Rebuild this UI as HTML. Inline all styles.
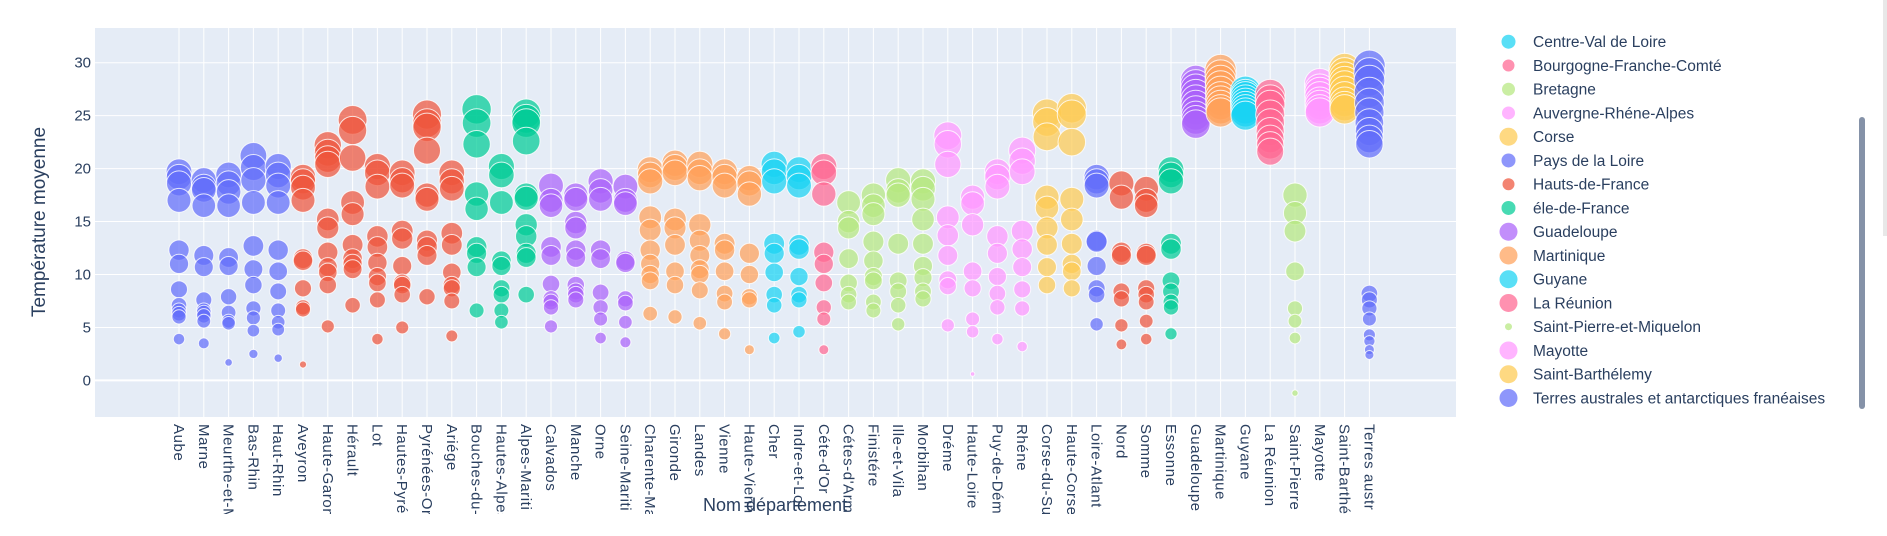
<!DOCTYPE html>
<html><head><meta charset="utf-8">
<style>
html,body{margin:0;padding:0;background:#fff;overflow:hidden;width:1887px;height:536px}
svg{display:block;font-family:"Liberation Sans",sans-serif}
</style></head>
<body>
<svg id="chart" width="1887" height="536" viewBox="0 0 1887 536" xmlns="http://www.w3.org/2000/svg">
<rect x="95" y="28" width="1361" height="389" fill="#e5ecf6"/>
<g id="grid"></g>
<g id="marks"></g>
<g id="yticks"></g>
<clipPath id="xclip"><rect x="95" y="418" width="1370" height="96"/></clipPath>
<g id="xticks" clip-path="url(#xclip)"></g>
<text x="775" y="511" text-anchor="middle" font-size="18" fill="#2a3f5f">Nom département</text>
<text transform="translate(45,222) rotate(-90)" text-anchor="middle" font-size="19" fill="#2a3f5f">Température moyenne</text>
<g id="legend"></g>
<rect x="1859" y="117" width="6" height="292" rx="3" fill="#8592a8"/>
<rect x="1883" y="0" width="4" height="236" fill="#e8e8e8"/>
</svg>
<script>
const categories=["Aube","Marne","Meurthe-et-Moselle","Bas-Rhin","Haut-Rhin","Aveyron","Haute-Garonne","Hérault","Lot","Hautes-Pyrénées","Pyrénées-Orientales","Ariége","Bouches-du-Rhône","Hautes-Alpes","Alpes-Maritimes","Calvados","Manche","Orne","Seine-Maritime","Charente-Maritime","Gironde","Landes","Vienne","Haute-Vienne","Cher","Indre-et-Loire","Céte-d'Or","Cétes-d'Armor","Finistére","Ille-et-Vilaine","Morbihan","Dréme","Haute-Loire","Puy-de-Déme","Rhéne","Corse-du-Sud","Haute-Corse","Loire-Atlantique","Nord","Somme","Essonne","Guadeloupe","Martinique","Guyane","La Réunion","Saint-Pierre-et-Miquelon","Mayotte","Saint-Barthélemy","Terres australes"];
const colorIdx=[0,0,0,0,0,1,1,1,1,1,1,1,2,2,2,3,3,3,3,4,4,4,4,4,5,5,6,7,7,7,7,8,8,8,8,9,9,0,1,1,2,3,4,5,6,7,8,9,0];
const temps=[
[19.7,19.2,18.6,17.0,12.3,11.0,8.6,7.1,6.6,6.3,6.0,3.9],
[18.9,18.3,18.0,16.5,11.8,10.7,7.6,6.6,6.4,6.1,5.6,3.5],
[19.4,18.6,17.8,16.5,11.6,10.8,7.9,6.4,5.6,5.4,1.7],
[21.2,20.1,18.9,16.8,12.7,10.5,9.0,6.8,5.9,4.7,2.5],
[20.2,19.4,18.4,16.8,12.3,10.3,8.4,6.6,5.5,4.8,2.1],
[19.2,18.8,18.2,17.0,11.5,11.3,8.7,6.9,6.7,1.5],
[22.2,21.5,20.9,20.4,15.2,14.4,12.1,10.7,10.2,9.0,5.1],
[24.6,23.6,21.0,16.8,15.7,12.8,11.5,11.0,10.5,7.1],
[20.2,19.6,18.3,13.6,12.6,11.1,9.8,9.2,7.6,3.9],
[19.6,18.9,18.4,14.1,13.4,10.8,9.2,9.0,8.1,5.0],
[25.1,24.3,23.9,21.7,17.5,17.1,13.2,12.6,11.8,7.9],
[19.6,18.8,18.1,13.9,12.8,10.2,9.0,8.7,7.5,4.2],
[25.6,24.3,22.3,17.6,16.2,12.6,12.0,10.7,6.6],
[20.2,19.4,16.8,11.3,10.8,8.7,8.1,6.6,5.5],
[25.2,24.7,24.3,22.6,17.5,17.2,14.7,13.6,12.0,11.6,8.1],
[18.4,17.0,16.5,12.6,11.8,9.1,7.7,7.4,6.9,5.1],
[17.5,17.1,14.9,14.4,12.3,11.6,9.0,8.4,8.1,7.6],
[18.8,17.9,17.1,12.3,11.5,8.3,6.9,5.8,4.0],
[18.3,17.0,16.7,11.3,11.1,7.7,7.3,5.5,3.6],
[19.9,19.4,18.8,15.4,14.2,12.3,11.0,10.0,9.4,6.3],
[20.5,20.1,19.6,15.2,14.4,12.8,10.3,9.0,6.0],
[20.4,19.7,19.1,14.7,13.2,11.8,10.5,10.0,8.5,5.4],
[19.7,19.2,18.4,12.9,12.3,10.3,8.2,7.4,4.4],
[19.1,18.6,17.6,12.0,10.0,7.9,7.6,2.9],
[20.4,19.7,18.8,12.9,12.0,10.2,8.1,7.1,4.0],
[19.9,19.2,18.4,12.8,12.4,9.8,8.1,7.6,4.6],
[20.2,19.6,17.6,12.1,11.0,9.2,6.9,5.8,2.9],
[16.8,15.0,14.4,11.5,9.2,8.1,7.4],
[17.5,16.5,15.7,13.1,11.3,9.8,9.4,7.4,6.6],
[18.9,17.9,17.5,12.9,9.4,8.4,7.1,5.3],
[18.8,18.1,17.1,15.2,12.9,10.8,9.7,8.4,7.7],
[23.1,22.3,20.4,15.4,13.7,11.8,9.5,8.9,5.2],
[17.3,16.7,14.7,10.3,8.7,5.8,4.6,0.6],
[19.7,19.2,18.3,13.6,12.0,9.8,8.2,6.9,3.9],
[21.7,20.7,19.7,14.1,12.4,10.7,8.6,6.8,3.2],
[25.2,24.4,23.0,17.3,16.3,14.4,12.8,10.7,9.0],
[25.7,25.1,22.5,17.1,15.2,12.9,11.0,10.3,8.7],
[19.2,18.8,18.4,13.2,13.1,10.8,8.7,8.1,5.3],
[18.6,17.3,12.1,11.8,8.4,7.7,5.2,3.4],
[18.1,17.0,16.5,12.0,11.8,8.7,8.1,7.4,5.6,3.9],
[19.9,19.4,18.8,12.9,12.4,9.4,8.4,7.4,6.9,4.4],
[28.3,27.9,27.5,27.0,26.5,26.0,25.5,25.0,24.6,24.2],
[29.3,28.8,28.3,27.8,27.3,26.8,26.4,26.0,25.6,25.3],
[27.3,27.0,26.8,26.5,26.2,25.9,25.6,25.3,25.0],
[27.0,26.5,26.0,25.1,24.3,23.5,22.8,22.2,21.6],
[17.5,15.8,14.1,10.3,6.8,5.6,4.0,-1.2],
[28.0,27.5,27.2,26.8,26.3,26.0,25.6,25.3],
[29.4,29.0,28.6,28.2,27.8,27.3,26.8,26.3,25.9,25.6],
[29.7,29.0,28.3,27.2,26.2,25.3,24.3,23.5,22.8,22.3,8.2,7.6,6.8,5.8,4.3,3.7,2.9,2.4]
];
const yTicks=[0,5,10,15,20,25,30];
const legendNames=["Centre-Val de Loire","Bourgogne-Franche-Comté","Bretagne","Auvergne-Rhéne-Alpes","Corse","Pays de la Loire","Hauts-de-France","éle-de-France","Guadeloupe","Martinique","Guyane","La Réunion","Saint-Pierre-et-Miquelon","Mayotte","Saint-Barthélemy","Terres australes et antarctiques franéaises"];
const legendColorIdx=[5,6,7,8,9,0,1,2,3,4,5,6,7,8,9,0];
const legendSizes=[14,12,13,13,18,14,12,14,18,18,18,18,7,18,18,18];
const palette=["#636efa","#EF553B","#00cc96","#ab63fa","#FFA15A","#19d3f3","#FF6692","#B6E880","#FF97FF","#FECB52"];

const NS="http://www.w3.org/2000/svg";
const X0=95,X1=1456,Y0=28,Y1=417;
const xFirst=179,xStep=24.8;
function xs(i){return xFirst+i*xStep;}
function ys(v){return 380.4-v*10.59;}
function mk(tag,attrs,parent){const e=document.createElementNS(NS,tag);for(const k in attrs)e.setAttribute(k,attrs[k]);parent.appendChild(e);return e;}
const grid=document.getElementById('grid');
categories.forEach((c,i)=>{
  const l=mk('line',{x1:xs(i),x2:xs(i),y1:Y0,y2:Y1,stroke:'#fff','stroke-width':1},grid);
  
  
});
const yt=document.getElementById('yticks');
yTicks.forEach(v=>{
  const l=mk('line',{x1:X0,x2:X1,y1:ys(v),y2:ys(v),stroke:'#fff','stroke-width':v===0?2:1},grid);
  
  
  const t=mk('text',{x:91,y:ys(v)+5,'text-anchor':'end','font-size':15,fill:'#2a3f5f'},yt);
  t.textContent=String(v);
  
  
});
const marks=document.getElementById('marks');
temps.forEach((arr,i)=>{
  arr.forEach(v=>{
    const d=Math.max(2.5,5.8*Math.sqrt(Math.abs(v)));
    const c=mk('circle',{cx:xs(i),cy:ys(v),r:d/2,fill:palette[colorIdx[i]],'fill-opacity':0.72,stroke:'#fff','stroke-width':1,'stroke-opacity':0.8},marks);
    
    
  });
});
const xt=document.getElementById('xticks');
categories.forEach((c,i)=>{
  const t=mk('text',{transform:`translate(${xs(i)-5},424) rotate(90)`,'font-size':15,'letter-spacing':'0.6',fill:'#2a3f5f'},xt);
  t.textContent=c.length>12?c.slice(0,12):c;
  
  
});
const lg=document.getElementById('legend');
legendNames.forEach((n,i)=>{
  const y=41.7+i*23.75;
  const g=mk('g',{},lg);
  
  
  mk('circle',{cx:1508.5,cy:y,r:legendSizes[i]/2,fill:palette[legendColorIdx[i]],'fill-opacity':0.72},g);
  const t=mk('text',{x:1533,y:y+5.5,'font-size':15.5,fill:'#2a3f5f'},g);
  t.textContent=n;
});
</script>
</body></html>
